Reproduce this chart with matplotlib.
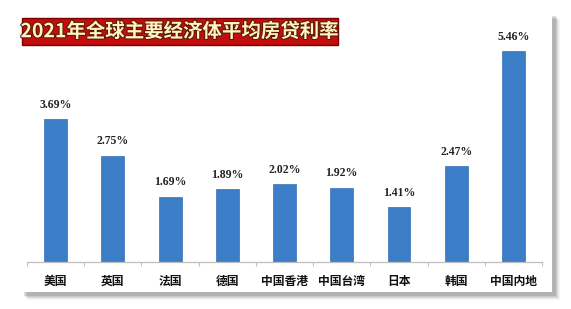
import matplotlib
matplotlib.use("Agg")
import matplotlib.pyplot as plt
from matplotlib.patches import Rectangle
import matplotlib.patheffects as pe
import numpy as np

plt.rcParams['font.family'] = ['Noto Sans CJK SC', 'DejaVu Sans']

title = "2021年全球主要经济体平均房贷利率"
categories = ["美国", "英国", "法国", "德国", "中国香港", "中国台湾", "日本", "韩国", "中国内地"]
rates = [3.69, 2.75, 1.69, 1.89, 2.02, 1.92, 1.41, 2.47, 5.46]

W, H = 571, 309
fig = plt.figure(figsize=(W / 100, H / 100), dpi=100)
fig.patch.set_facecolor('white')

def fx(px):
    return px / W

def fy(py):
    return 1 - py / H

# soft drop shadow behind the white card
for i, a in enumerate([0.05, 0.07, 0.10, 0.13, 0.18]):
    off = 6 - i
    fig.patches.append(Rectangle((fx(22 + off), fy(294 + off)), fx(532), 280 / H,
                                 transform=fig.transFigure, facecolor='#555555',
                                 edgecolor='none', alpha=a, zorder=0))
fig.patches.append(Rectangle((fx(20), fy(292)), fx(532), 280 / H,
                             transform=fig.transFigure, facecolor='white',
                             edgecolor='none', zorder=1))

ax = fig.add_axes([fx(27), fy(262), fx(542 - 27), (262 - 30) / H])
ax.set_zorder(2)
ax.patch.set_alpha(0)

x = np.arange(len(categories))
bars = ax.bar(x, rates, width=0.4, color='#3b7dc6', edgecolor='#3472b8', lw=0.5)
ax.set_xlim(-0.5, len(categories) - 0.5)
ax.set_ylim(0, 6)

for xi, v in zip(x, rates):
    ax.annotate(f"{v:.2f}%", (xi, v), xytext=(0, 6), textcoords='offset points',
                ha='center', va='bottom', fontsize=8.5, fontweight='bold',
                family='Liberation Serif', color='#222222')

ax.set_xticks(x)
ax.set_xticklabels(categories, fontsize=8.5, fontweight='bold', color='#111111')
ax.set_xticks(np.arange(-0.5, len(categories)), minor=True)
ax.tick_params(axis='x', which='major', length=0, pad=9)
ax.tick_params(axis='x', which='minor', length=3, color='#bfbfbf', width=0.8)
ax.set_yticks([])
for s in ['top', 'right', 'left']:
    ax.spines[s].set_visible(False)
ax.spines['bottom'].set_color('#bfbfbf')
ax.spines['bottom'].set_linewidth(0.9)

# title banner
fig.patches.append(Rectangle((fx(22), fy(45)), fx(316), 27 / H,
                             transform=fig.transFigure, facecolor='#c40d0d',
                             edgecolor='#7a0000', lw=1.0, zorder=3))
fig.text(fx(180), fy(31.5), title, ha='center', va='center', fontsize=14,
         fontweight='bold', color='#fff3c8', zorder=4,
         path_effects=[pe.withStroke(linewidth=1.5, foreground='#5a1a00')])

fig.savefig("out.png", dpi=100, facecolor='white')
